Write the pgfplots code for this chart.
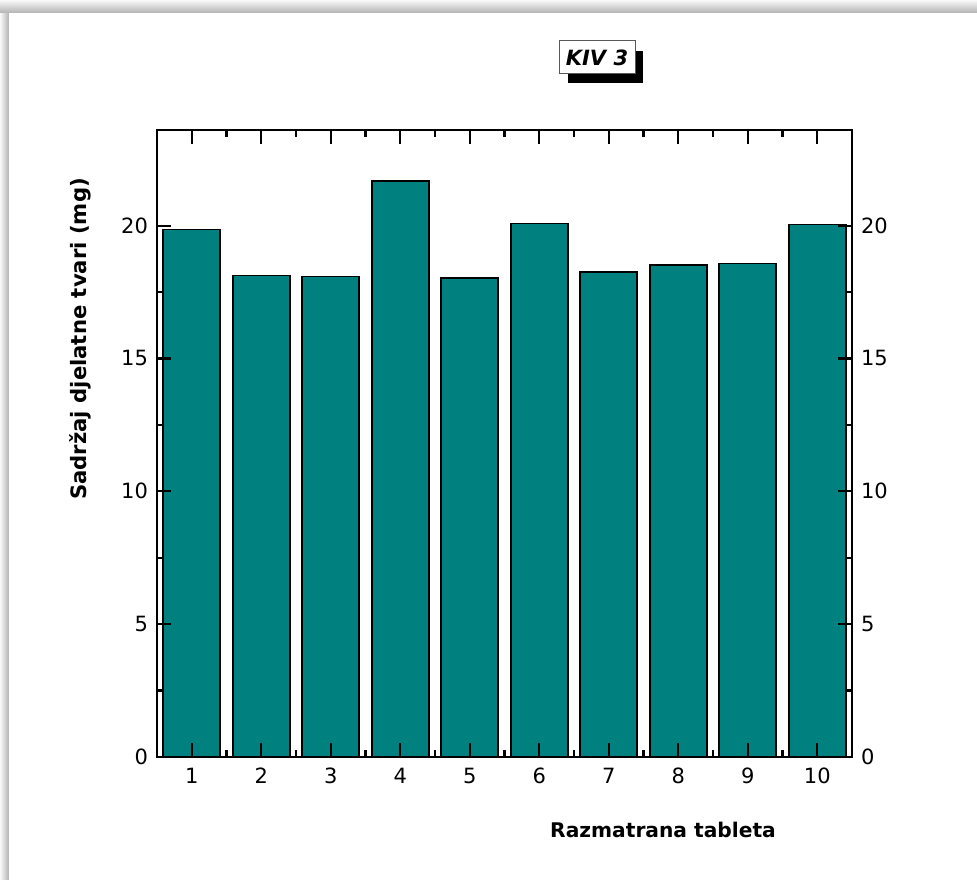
\documentclass[border=0pt]{standalone}
\usepackage{pgfplots}
\pgfplotsset{compat=1.18}
\usepackage{fontspec}
\setmainfont{DejaVu Sans}
\definecolor{barteal}{RGB}{0,128,126}
\begin{document}
\begin{tikzpicture}
% page background and frame
\fill[gray!45] (-78.5pt,-61pt) rectangle (410pt,378.5pt);
\shade[left color=gray!5, right color=gray!60] (-78.5pt,-61pt) rectangle (-74pt,372pt);
\shade[top color=gray!5, bottom color=gray!60] (-78.5pt,372pt) rectangle (410pt,378.5pt);
\fill[white] (-74pt,-61pt) rectangle (410pt,372pt);
\pgfplotsset{
  common/.style={
    at={(0pt,0pt)}, anchor=south west,
    scale only axis, width=347.5pt, height=313.5pt,
    xmin=0.5, xmax=10.5, ymin=0, ymax=23.6,
    xtick={1,...,10}, ytick={0,5,10,15,20},
    minor x tick num=1, minor y tick num=1,
    tick align=inside,
    major tick length=7pt, minor tick length=3.5pt,
    axis line style={line width=1pt},
    every tick/.style={black, line width=1.1pt},
    /pgf/number format/assume math mode=true,
    ticklabel style={font=\fontsize{10.5}{12}\selectfont},
  }
}
\begin{axis}[common,
  set layers, axis on top,
  xtick pos=both, ytick pos=left,
  xticklabel style={yshift=-2pt},
  yticklabel style={xshift=-1pt},
]
\addplot[ybar, bar width=0.82, fill=barteal, draw=black, line width=0.8pt]
  coordinates {(1,19.85) (2,18.12) (3,18.08) (4,21.68) (5,18.02) (6,20.08) (7,18.26) (8,18.52) (9,18.57) (10,20.04)};
\end{axis}
% overlay axis: draws frame and all ticks on top of the bars, plus right labels
\begin{axis}[common,
  xtick pos=both, ytick pos=both,
  xticklabels={},
  yticklabel pos=right,
  yticklabel style={xshift=1pt},
]
\end{axis}
% axis labels
\node[rotate=90, font=\fontsize{10.6}{12}\selectfont\bfseries] at (-38.5pt,209pt) {Sadržaj djelatne tvari (mg)};
\node[font=\fontsize{10.1}{12}\selectfont\bfseries] at (253pt,-36.5pt) {Razmatrana tableta};
% title box with shadow
\fill[black] (205.5pt,337pt) rectangle (243pt,353pt);
\node[draw=gray!70!black, fill=white, line width=0.5pt, inner xsep=3pt, inner ysep=2.5pt,
      minimum width=38pt, minimum height=16.5pt,
      font=\fontsize{10.5}{12}\selectfont\bfseries\itshape] at (220pt,349.75pt) {KIV 3};
\end{tikzpicture}
\end{document}
